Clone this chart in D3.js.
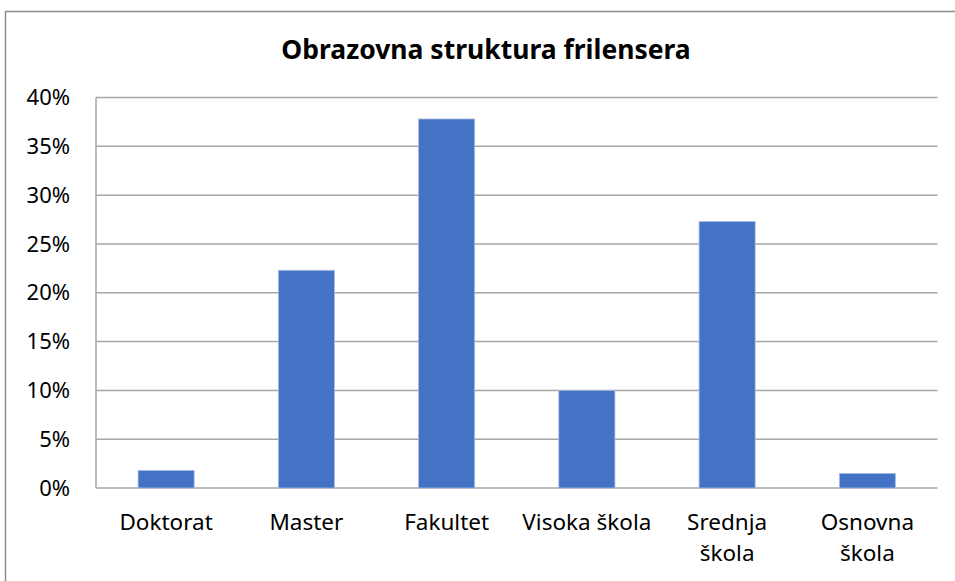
<!DOCTYPE html>
<html>
<head>
<meta charset="utf-8">
<script src="https://cdn.jsdelivr.net/npm/d3@7"></script>
<style>
  html, body { margin: 0; padding: 0; background: #fff; }
  svg { display: block; }
</style>
</head>
<body>
<svg id="chart" width="955" height="581"></svg>
<script>
const categories = ['Doktorat', 'Master', 'Fakultet', 'Visoka škola', 'Srednja škola', 'Osnovna škola'];
const values = [0.018, 0.223, 0.378, 0.100, 0.273, 0.015];
const yTicks = [0, 0.05, 0.10, 0.15, 0.20, 0.25, 0.30, 0.35, 0.40];
const chartTitle = 'Obrazovna struktura frilensera';

(function() {
    'use strict';
    const svg = d3.select('#chart');
    const margin = { top: 97.5, right: 17.5, bottom: 93, left: 96 };
    const width = 955 - margin.left - margin.right;
    const height = 581 - margin.top - margin.bottom;
    const font = '"Noto Sans", "Open Sans", sans-serif';

    // outer chart border (runs off right and bottom edges)
    svg.append('rect')
        .attr('x', 5.5).attr('y', 11.5)
        .attr('width', 1200).attr('height', 1200)
        .attr('fill', 'none')
        .attr('stroke', '#8c8c8c')
        .attr('stroke-width', 1.5);

    svg.append('text')
        .attr('x', 486).attr('y', 59)
        .attr('text-anchor', 'middle')
        .style('font-family', font)
        .style('font-weight', 'bold')
        .style('font-size', '26.5px')
        .style('fill', '#000')
        .text(chartTitle);

    const g = svg.append('g')
        .attr('transform', `translate(${margin.left},${margin.top})`);

    const x = d3.scaleBand()
        .domain(categories)
        .range([0, width])
        .paddingInner(0.6)
        .paddingOuter(0.3);

    const y = d3.scaleLinear()
        .domain([0, 0.40])
        .range([height, 0]);

    // gridlines
    g.append('g')
        .selectAll('line')
        .data(yTicks)
        .enter()
        .append('line')
        .attr('x1', 0).attr('x2', width)
        .attr('y1', d => y(d)).attr('y2', d => y(d))
        .attr('stroke', '#a6a6a6')
        .attr('stroke-width', 1.5);

    // left axis line
    g.append('line')
        .attr('x1', 0).attr('x2', 0)
        .attr('y1', 0).attr('y2', height)
        .attr('stroke', '#a6a6a6')
        .attr('stroke-width', 1.5);

    // y tick labels
    g.append('g')
        .selectAll('text')
        .data(yTicks)
        .enter()
        .append('text')
        .attr('x', -26)
        .attr('y', d => y(d))
        .attr('dy', '0.35em')
        .attr('text-anchor', 'end')
        .style('font-family', font)
        .style('font-size', '22px')
        .style('fill', '#000')
        .text(d => d3.format('.0%')(d));

    // bars
    g.append('g')
        .selectAll('rect')
        .data(values)
        .enter()
        .append('rect')
        .attr('x', (d, i) => x(categories[i]))
        .attr('y', d => y(d))
        .attr('width', x.bandwidth())
        .attr('height', d => height - y(d))
        .attr('fill', '#4472c4')
        .attr('stroke', '#a9bfe6')
        .attr('stroke-width', 0.8);

    // x category labels (wrap two-word labels except Visoka škola)
    const labels = g.append('g')
        .selectAll('text')
        .data(categories)
        .enter()
        .append('text')
        .attr('x', d => x(d) + x.bandwidth() / 2)
        .attr('y', height + 42)
        .attr('text-anchor', 'middle')
        .style('font-family', font)
        .style('font-size', '22.5px')
        .style('fill', '#000');

    labels.each(function(d) {
        const t = d3.select(this);
        const words = d.split(' ');
        if (words.length > 1 && d !== 'Visoka škola') {
            t.append('tspan').attr('x', t.attr('x')).attr('dy', 0).text(words[0]);
            t.append('tspan').attr('x', t.attr('x')).attr('dy', '1.38em').text(words[1]);
        } else {
            t.text(d);
        }
    });
})();
</script>
</body>
</html>
